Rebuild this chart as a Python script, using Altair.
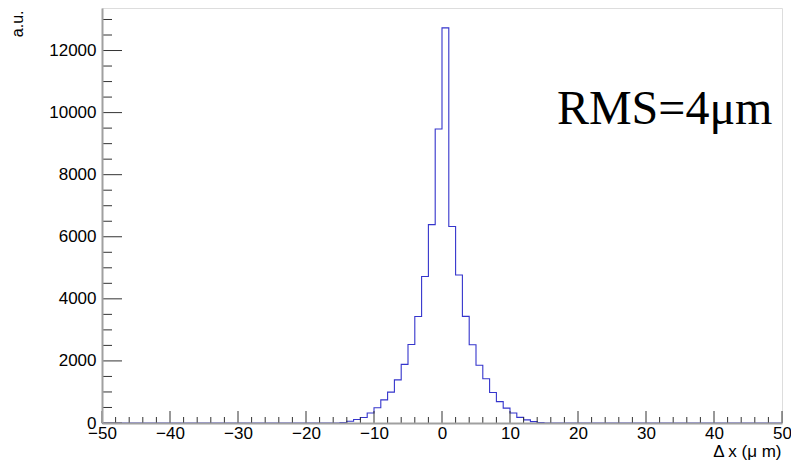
import altair as alt
import pandas as pd

# histogram: 1 um bins from -50 to 50; non-zero bins from -15 to 14 (low edges)
nonzero_low_edges = list(range(-15, 15))
nonzero_counts = [15, 55, 115, 175, 320, 490, 745, 995, 1390, 1890,
                  2530, 3430, 4720, 6390, 9470, 12730, 6330, 4770, 3435, 2522,
                  1860, 1425, 985, 690, 480, 320, 180, 100, 45, 12]

x_major = [-50, -40, -30, -20, -10, 0, 10, 20, 30, 40, 50]
x_minor = [v for v in range(-50, 51, 2) if v % 10 != 0]
y_major = [0, 2000, 4000, 6000, 8000, 10000, 12000]
y_minor = [v for v in range(0, 13001, 500) if v % 2000 != 0]

X_MIN, X_MAX = -50, 50
Y_MAX = 13370
W, H = 680, 415

# build step table
lookup = dict(zip(nonzero_low_edges, nonzero_counts))
edges = list(range(X_MIN, X_MAX + 1))
vals = [lookup.get(e, 0) for e in edges[:-1]]
vals.append(vals[-1])
hist = pd.DataFrame({"x": edges, "y": vals})

xs = alt.Scale(domain=[X_MIN, X_MAX], nice=False, zero=False)
ys = alt.Scale(domain=[0, Y_MAX], nice=False, zero=True)

FONT = "Liberation Sans"
AX = "#a0a0a0"

xaxis = alt.Axis(
    values=x_major, format="d", ticks=False, grid=False,
    domainColor=AX, domainWidth=2, labelFont=FONT, labelFontSize=17,
    labelColor="black", labelPadding=2, labelFlush=False, labelOverlap=False,
    title="Δ x (μ m)", titleFont=FONT, titleFontSize=17, titleFontWeight="normal",
    titleColor="black", titleAnchor="end", titleAlign="right", titleX=W - 1,
    titleY=33, titleBaseline="alphabetic", zindex=1)
yaxis = alt.Axis(
    values=y_major, format="d", ticks=False, grid=False,
    domainColor=AX, domainWidth=2, labelFont=FONT, labelFontSize=17,
    labelColor="black", labelPadding=6, labelOverlap=False, labelFlush=False,
    title="a.u.", titleFont=FONT, titleFontSize=16, titleFontWeight="normal",
    titleColor="black", titleAngle=-90, titleAlign="right", titleBaseline="middle",
    titleX=-85, titleY=2, zindex=1)

line = alt.Chart(hist).mark_line(interpolate="step-after", color="#3535cc",
                                 strokeWidth=1.1).encode(
    x=alt.X("x:Q", scale=xs, axis=xaxis),
    y=alt.Y("y:Q", scale=ys, axis=yaxis),
)

def xticks(vals_, length):
    return alt.Chart(pd.DataFrame({"x": vals_})).mark_rule(color="#333333", strokeWidth=1).encode(
        x=alt.X("x:Q", scale=xs, axis=xaxis),
        y=alt.value(H), y2=alt.value(H - length))

def yticks(vals_, length):
    return alt.Chart(pd.DataFrame({"y": vals_})).mark_rule(color="#333333", strokeWidth=1).encode(
        y=alt.Y("y:Q", scale=ys, axis=yaxis),
        x=alt.value(0), x2=alt.value(length))

label = alt.Chart(pd.DataFrame({"x": [16.9], "y": [9645], "t": ["RMS=4μm"]})).mark_text(
    font="Liberation Serif", fontSize=48, align="left", baseline="alphabetic", color="black"
).encode(x=alt.X("x:Q", scale=xs, axis=xaxis), y=alt.Y("y:Q", scale=ys, axis=yaxis), text="t:N")

chart = alt.layer(
    line,
    xticks(x_major, 12), xticks(x_minor, 6),
    yticks(y_major, 20), yticks(y_minor, 10),
    label,
).properties(
    width=W, height=H,
    autosize=alt.AutoSizeParams(type="none"),
    padding={"left": 94, "top": 0, "right": 9, "bottom": 38},
).configure_view(stroke=AX, strokeWidth=1.5).configure(background="white")

chart.save("out.html", embed_options={"renderer": "svg", "actions": False})
